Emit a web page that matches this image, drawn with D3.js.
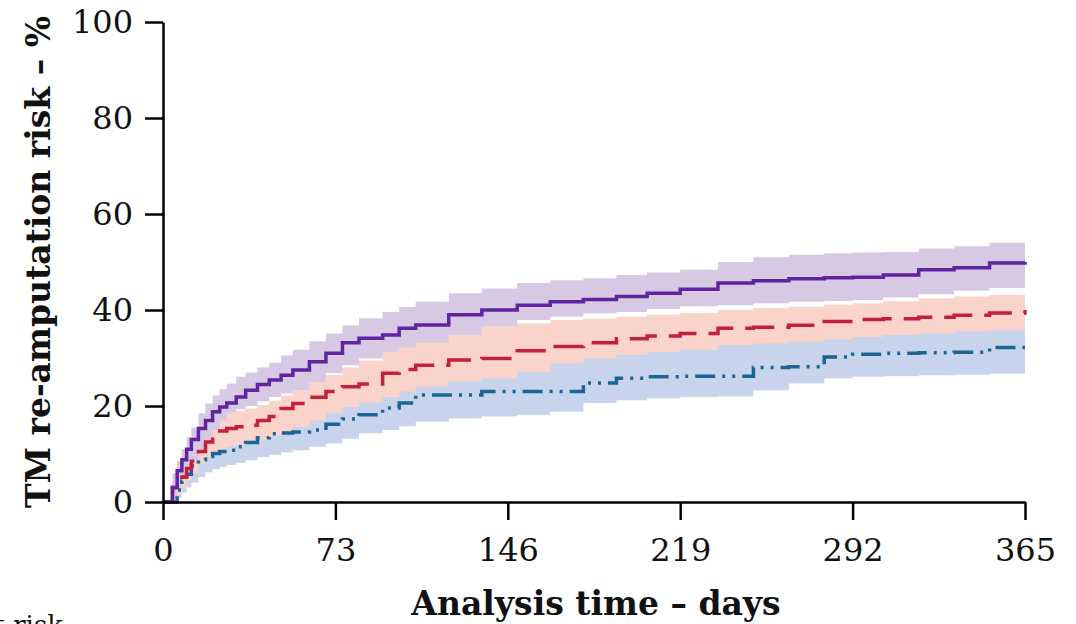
<!DOCTYPE html>
<html>
<head>
<meta charset="utf-8">
<script src="https://cdn.jsdelivr.net/npm/d3@7"></script>
<style>
  body { margin: 0; background: #fff; }
  svg { display: block; }
</style>
</head>
<body>
<svg id="drawing_region"></svg>
<script>
// analysis time grid (days)
const days = [0, 2, 4, 6, 8, 10, 12, 15, 18, 21, 24, 27, 31, 35, 40, 45, 50, 55, 62, 69, 76, 83, 93, 100, 107, 121, 135, 150, 164, 178, 192, 205, 219, 235, 250, 265, 280, 292, 305, 320, 335, 350, 365];

// purple, solid
const purpleEst = [0, 0, 3, 6.5, 8.8, 11, 13, 15.3, 17, 18.8, 19.8, 20.6, 21.9, 23.3, 24.5, 25.4, 26.4, 27.5, 29.2, 31, 33.2, 34.1, 34.8, 36.2, 36.9, 39, 40, 41, 41.7, 42.2, 42.8, 43.5, 44.3, 45.6, 46.1, 46.5, 46.7, 46.8, 47.3, 48.4, 48.8, 49.8, 50];
const purpleLo = [0, 0, 1, 3, 5, 6.7, 8.5, 11, 12.8, 15, 17, 18.5, 19.3, 20, 21, 21.9, 22.6, 23.3, 25, 26.8, 28.5, 29.9, 31.3, 32.2, 33.1, 34.8, 36.5, 37.9, 38.6, 39.3, 39.6, 40.2, 40.8, 41, 41.4, 41.7, 41.9, 42.1, 42.6, 43.3, 44, 44.6, 45.2];
const purpleHi = [0, 0, 6, 8.5, 11, 13.5, 15.5, 18.5, 20.5, 22.2, 23.5, 24.7, 26.1, 27, 28, 29, 30.5, 31.7, 33.5, 35.1, 36.8, 38.3, 39.6, 40.6, 41.7, 43.5, 44.5, 45.6, 46.2, 46.6, 47.3, 47.8, 48.4, 50, 51, 51.5, 51.8, 52, 52.1, 52.8, 53.3, 54, 54.6];

// red, dashed
const redEst = [0, 0, 3, 4, 5.2, 7, 8.5, 10.5, 12.5, 14.3, 14.8, 15.3, 15.7, 16, 17, 17.8, 19.5, 20.5, 21.8, 23, 24, 24.6, 26.8, 27.6, 28.5, 29.6, 29.9, 31.5, 32.4, 33.2, 34, 34.6, 35.1, 36.2, 36.4, 36.8, 37.6, 38, 38.2, 38.5, 38.9, 39.4, 40];
const redLo = [0, 0, 0.5, 1.5, 3, 4.5, 6, 8, 9.5, 10.3, 11, 11.5, 12, 12.4, 12.9, 13.7, 14.7, 15.7, 17, 18.5, 19.8, 20.8, 21.9, 23, 24, 25.1, 25.8, 27.1, 28.9, 29.9, 30.6, 31.2, 31.7, 32.7, 33, 33.4, 33.9, 34.4, 34.8, 35.1, 35.5, 35.8, 36.2];
const redHi = [0, 0, 3.5, 4.5, 6, 8.5, 11, 13.5, 15.7, 17, 17.8, 18.5, 19, 19.5, 20.2, 21, 22.2, 23.3, 25, 26.5, 28, 29.5, 32.5, 33, 34.1, 35.5, 36.5, 37.2, 37.9, 38.2, 38.6, 39, 39.4, 40, 40.4, 40.7, 41.1, 41.4, 41.8, 42.4, 42.8, 43.1, 43.8];

// blue, dash-dot-dot
const blueEst = [0, 0, 0, 2.5, 4.3, 5.8, 7.5, 8.8, 9.5, 10.1, 10.5, 10.8, 11.5, 12.4, 13.4, 14.2, 14.4, 14.6, 15, 16.2, 17.3, 18.2, 19.6, 20.6, 22.3, 22.3, 23, 23, 23, 24.8, 25.8, 26.1, 26.2, 26.2, 28, 28.2, 30.2, 30.8, 31, 31.1, 31.2, 32.2, 32.2];
const blueLo = [0, 0, 0, 1, 2, 3, 4, 5.2, 6.2, 6.8, 7.3, 7.7, 8.2, 8.7, 9.3, 9.8, 10.3, 10.8, 11.5, 12.2, 13.2, 14.3, 15, 15.8, 16.7, 17.4, 17.8, 18.1, 18.8, 20.6, 21.2, 21.6, 21.9, 22, 23.3, 24.7, 25.8, 26.1, 26.2, 26.4, 26.5, 26.7, 26.8];
const blueHi = [0, 0, 0, 4, 6.5, 8.5, 11, 12.5, 13, 13.5, 13.8, 14, 14.8, 16, 17.5, 18.6, 18.6, 18.5, 18.6, 20.2, 21.5, 22, 24.2, 25.4, 28, 27.2, 28.3, 28, 29.5, 30.5, 31.2, 31.8, 32.2, 33, 33.5, 34, 34.6, 35.2, 35.6, 35.9, 36.2, 37.6, 37.6];

const xTicks = [0, 73, 146, 219, 292, 365];
const yTicks = [0, 20, 40, 60, 80, 100];

const config = {
    parent: '#drawing_region',
    width: 1076,
    height: 624,
    margin: {top: 22, right: 51, bottom: 122, left: 163}
};

const series = [
    {est: blueEst, lo: blueLo, hi: blueHi, line: '#1b6496', band: '#c7d4ec', dash: '20,7,3,7,3,7'},
    {est: redEst, lo: redLo, hi: redHi, line: '#c41f3b', band: '#fad3cb', dash: '30,12'},
    {est: purpleEst, lo: purpleLo, hi: purpleHi, line: '#5f24a0', band: '#d7c9e3', dash: null}
];

const svg = d3.select(config.parent)
    .attr('width', config.width)
    .attr('height', config.height);

const inner_width = config.width - config.margin.left - config.margin.right;
const inner_height = config.height - config.margin.top - config.margin.bottom;

const chart = svg.append('g')
    .attr('transform', `translate(${config.margin.left}, ${config.margin.top})`);

const xscale = d3.scaleLinear().domain([0, 365]).range([0, inner_width]);
const yscale = d3.scaleLinear().domain([0, 100]).range([inner_height, 0]);

const area = d3.area()
    .curve(d3.curveStepAfter)
    .x(i => xscale(days[i]));

const line = d3.line()
    .curve(d3.curveStepAfter)
    .x(i => xscale(days[i]));

const idx = d3.range(days.length);

// confidence bands first, blue at the back
series.forEach(s => {
    chart.append('path')
        .datum(idx)
        .attr('fill', s.band)
        .attr('d', area.y0(i => yscale(s.lo[i])).y1(i => yscale(s.hi[i])));
});

series.forEach(s => {
    chart.append('path')
        .datum(idx)
        .attr('fill', 'none')
        .attr('stroke', s.line)
        .attr('stroke-width', 3.5)
        .attr('stroke-dasharray', s.dash)
        .attr('d', line.y(i => yscale(s.est[i])));
});

const xaxis = d3.axisBottom(xscale)
    .tickValues(xTicks)
    .tickSize(18)
    .tickPadding(18)
    .tickSizeOuter(0);

const yaxis = d3.axisLeft(yscale)
    .tickValues(yTicks)
    .tickSize(18)
    .tickPadding(12)
    .tickSizeOuter(0);

const xaxis_group = chart.append('g')
    .attr('transform', `translate(0, ${inner_height})`)
    .call(xaxis);

const yaxis_group = chart.append('g')
    .call(yaxis);

[xaxis_group, yaxis_group].forEach(g => {
    g.select('.domain').attr('stroke', '#000').attr('stroke-width', 2.5);
    g.selectAll('.tick line').attr('stroke', '#000').attr('stroke-width', 2.5);
    g.selectAll('.tick text')
        .attr('fill', '#111')
        .style('font-family', '"DejaVu Serif", serif')
        .style('font-size', '32px');
});

svg.append('text')
    .attr('x', config.margin.left + inner_width / 2 + 2)
    .attr('y', 615)
    .attr('text-anchor', 'middle')
    .style('font-family', '"DejaVu Serif", serif')
    .style('font-weight', 'bold')
    .style('font-size', '33px')
    .attr('fill', '#111')
    .text('Analysis time – days');

svg.append('text')
    .attr('transform', `translate(50, ${config.margin.top + inner_height / 2}) rotate(-90)`)
    .attr('text-anchor', 'middle')
    .style('font-family', '"DejaVu Serif", serif')
    .style('font-weight', 'bold')
    .style('font-size', '33px')
    .attr('fill', '#111')
    .text('TM re-amputation risk – %');

// label of the table below, cut by the frame
svg.append('text')
    .attr('x', 63)
    .attr('y', 634)
    .attr('text-anchor', 'end')
    .style('font-family', '"DejaVu Serif", serif')
    .style('font-size', '26px')
    .attr('fill', '#111')
    .text('At risk');
</script>
</body>
</html>
